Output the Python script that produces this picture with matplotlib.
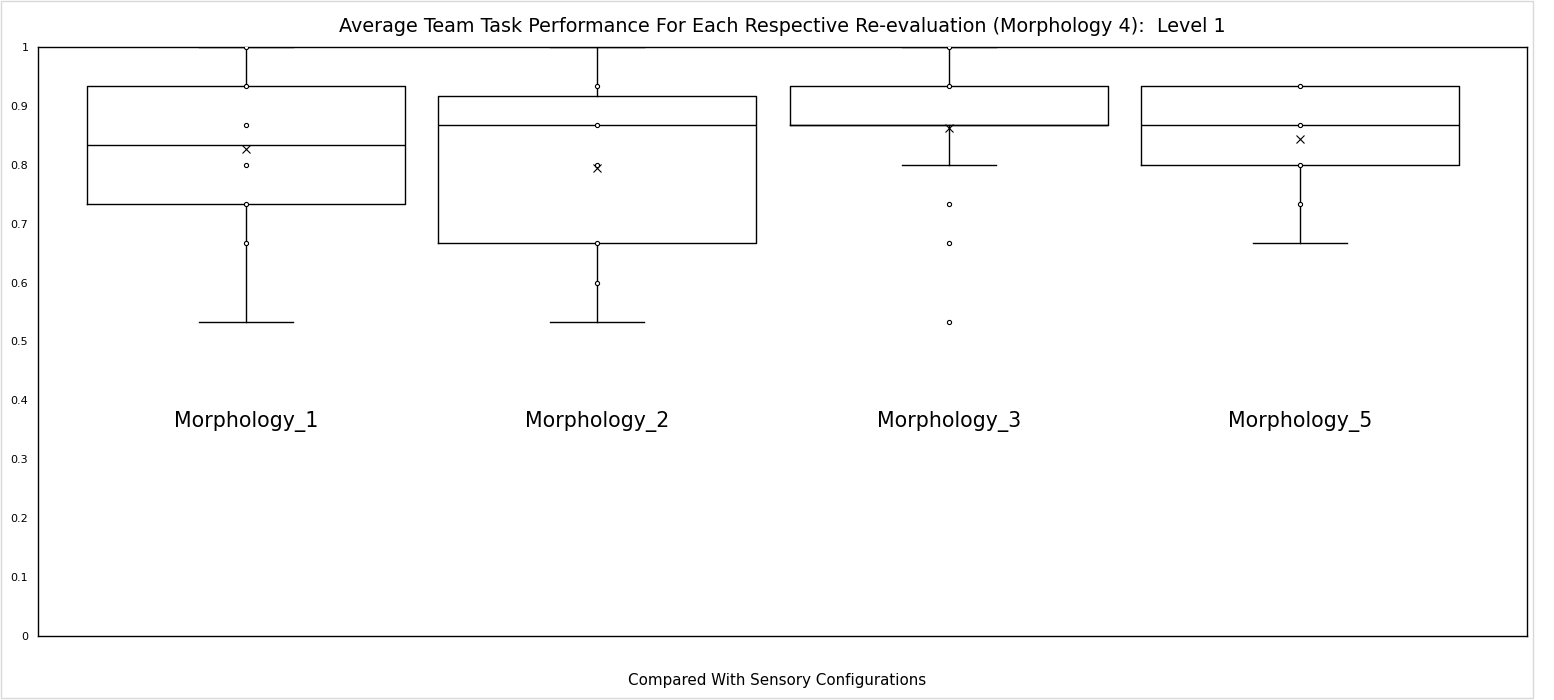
import matplotlib
matplotlib.use("Agg")
import matplotlib.pyplot as plt
from matplotlib.patches import Rectangle

# values (scores are multiples of 1/15)
categories = ["Morphology_1", "Morphology_2", "Morphology_3", "Morphology_5"]
q1 = [0.7333, 0.6667, 0.8667, 0.8000]
medians = [0.8333, 0.8667, 0.8667, 0.8667]
q3 = [0.9333, 0.9167, 0.9333, 0.9333]
whisker_low = [0.5333, 0.5333, 0.8000, 0.6667]
whisker_high = [1.0, 1.0, 1.0, 0.9333]
means = [0.826, 0.794, 0.863, 0.843]
points = [
    [1.0, 0.9333, 0.8667, 0.8, 0.7333, 0.6667],
    [0.9333, 0.8667, 0.8, 0.6667, 0.6],
    [1.0, 0.9333, 0.7333, 0.6667, 0.5333],
    [0.9333, 0.8667, 0.8, 0.7333],
]
y_ticks = [0, 0.1, 0.2, 0.3, 0.4, 0.5, 0.6, 0.7, 0.8, 0.9, 1]
y_tick_labels = ["0", "0.1", "0.2", "0.3", "0.4", "0.5", "0.6", "0.7", "0.8", "0.9", "1"]

positions = [1, 2, 3, 4]

fig = plt.figure(figsize=(15.54, 7.0), dpi=100)
fig.patches.append(Rectangle((0.0007, 0.003), 0.986, 0.996, transform=fig.transFigure,
                             fill=False, edgecolor="#d9d9d9", linewidth=1.0))
ax = fig.add_axes([0.0245, 0.0914, 0.9581, 0.8415])

stats = []
for i in range(len(categories)):
    stats.append({
        "q1": q1[i], "med": medians[i], "q3": q3[i],
        "whislo": whisker_low[i], "whishi": whisker_high[i],
        "mean": means[i], "fliers": [], "label": categories[i],
    })

line = dict(color="black", linewidth=1.0)
parts = ax.bxp(stats, positions=positions, widths=0.905, capwidths=0.268,
               showmeans=True, showfliers=False,
               boxprops=line, whiskerprops=line, capprops=line,
               medianprops=dict(color="black", linewidth=1.0),
               meanprops=dict(marker="x", markeredgecolor="black", markersize=6,
                              markeredgewidth=0.8, linestyle="none"),
               manage_ticks=False, zorder=2)

# no upper whisker when it falls on the box edge
for i in range(len(categories)):
    if whisker_high[i] <= q3[i]:
        parts["caps"][2 * i + 1].set_visible(False)

for pos, pts in zip(positions, points):
    ax.plot([pos] * len(pts), pts, linestyle="none", marker="o", markersize=3,
            markerfacecolor="white", markeredgecolor="black",
            markeredgewidth=0.8, zorder=3)

for pos, name in zip(positions, categories):
    ax.text(pos, 0.365, name, ha="center", va="center", fontsize=14.8)

ax.set_xlim(0.408, 4.646)
ax.set_ylim(0, 1)
ax.set_yticks(y_ticks)
ax.set_yticklabels(y_tick_labels, fontsize=8)
ax.set_xticks([])
ax.tick_params(axis="y", length=0, pad=7)
for s in ax.spines.values():
    s.set_linewidth(1.0)
    s.set_color("black")

ax.set_title("Average Team Task Performance For Each Respective Re-evaluation (Morphology 4):  Level 1",
             fontsize=13.8, pad=11)
fig.text(0.5, 0.028, "Compared With Sensory Configurations", ha="center", va="center", fontsize=10.9)

fig.savefig("out.png", dpi=100)
